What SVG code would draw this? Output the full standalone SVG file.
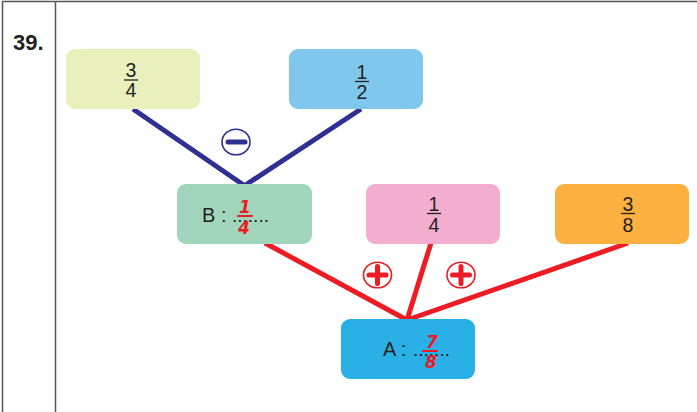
<svg xmlns="http://www.w3.org/2000/svg" width="697" height="412" viewBox="0 0 697 412">
<style>
.box{stroke:none}
.num{font-family:"Liberation Sans",Arial,sans-serif;font-size:19.5px;fill:#231f20;text-anchor:middle}
.lbl{font-family:"Liberation Sans",Arial,sans-serif;font-size:20px;fill:#231f20}
.dots{font-family:"Liberation Sans",Arial,sans-serif;font-size:19px;fill:#231f20}
.bar{stroke:#231f20;stroke-width:1.3}
.hand{font-family:"DejaVu Sans",sans-serif;font-size:17px;font-style:italic;font-weight:bold;fill:#ed1c24;text-anchor:middle}
.hbar{stroke:#ed1c24;stroke-width:2.2;stroke-linecap:round}
.blue{stroke:#2e3192;stroke-width:5;fill:none}
.red{stroke:#ed1c24;stroke-width:5;fill:none}
.frame{stroke:#555;stroke-width:1.5;fill:none}
</style>
<rect width="697" height="412" fill="#fff"/>
<g id="frame">
<line class="frame" x1="2" y1="1.5" x2="697" y2="1.5"/>
<line class="frame" x1="2.5" y1="1" x2="2.5" y2="412"/>
<line class="frame" x1="55.5" y1="1" x2="55.5" y2="412"/>
<text x="13" y="50" font-family="Liberation Sans,Arial,sans-serif" font-size="22" font-weight="bold" fill="#231f20">39.</text>
</g>
<g id="connectors">
<line class="blue" x1="133" y1="109" x2="245" y2="186"/>
<line class="blue" x1="361" y1="109" x2="244" y2="186"/>
<line class="red" x1="265" y1="243" x2="407" y2="320"/>
<line class="red" x1="431" y1="243" x2="407" y2="320"/>
<line class="red" x1="628" y1="243" x2="407" y2="320"/>
</g>
<g id="minus">
<ellipse cx="236" cy="142" rx="14" ry="12.8" fill="#fff" stroke="#2e3192" stroke-width="1.6"/>
<line x1="228" y1="142" x2="245" y2="142" stroke="#2e3192" stroke-width="5" stroke-linecap="round"/>
</g>
<g id="plus1">
<ellipse cx="377.5" cy="275" rx="14" ry="12.8" fill="#fff" stroke="#ed1c24" stroke-width="1.6"/>
<line x1="369" y1="275" x2="386" y2="275" stroke="#ed1c24" stroke-width="5" stroke-linecap="round"/>
<line x1="377.5" y1="266.5" x2="377.5" y2="283.5" stroke="#ed1c24" stroke-width="5" stroke-linecap="round"/>
</g>
<g id="plus2">
<ellipse cx="461" cy="275" rx="14" ry="12.8" fill="#fff" stroke="#ed1c24" stroke-width="1.6"/>
<line x1="452.5" y1="275" x2="469.5" y2="275" stroke="#ed1c24" stroke-width="5" stroke-linecap="round"/>
<line x1="461" y1="266.5" x2="461" y2="283.5" stroke="#ed1c24" stroke-width="5" stroke-linecap="round"/>
</g>
<g id="n34">
<rect class="box" x="66" y="49" width="134" height="60" rx="9" fill="#e9f0bc"/>
<text class="num" x="131" y="77">3</text>
<line class="bar" x1="124" y1="80" x2="138" y2="80"/>
<text class="num" x="131" y="97">4</text>
</g>
<g id="n12">
<rect class="box" x="289" y="49" width="134" height="60" rx="9" fill="#80c7ed"/>
<text class="num" x="362" y="79">1</text>
<line class="bar" x1="355" y1="81.5" x2="369" y2="81.5"/>
<text class="num" x="362" y="99">2</text>
</g>
<g id="nB">
<rect class="box" x="177" y="184" width="135" height="60" rx="9" fill="#a1d5bb"/>
<text class="lbl" x="202" y="222">B :</text>
<text class="dots" x="232" y="222">.......</text>
<text class="hand" x="245" y="213">1</text>
<line class="hbar" x1="238" y1="216" x2="252" y2="216"/>
<text class="hand" x="244" y="234">4</text>
</g>
<g id="n14">
<rect class="box" x="366" y="184" width="134" height="60" rx="9" fill="#f3aecf"/>
<text class="num" x="434" y="211">1</text>
<line class="bar" x1="427" y1="213.5" x2="441" y2="213.5"/>
<text class="num" x="434" y="232">4</text>
</g>
<g id="n38">
<rect class="box" x="555" y="184" width="134" height="60" rx="9" fill="#fbb040"/>
<text class="num" x="628" y="211">3</text>
<line class="bar" x1="621" y1="213.5" x2="635" y2="213.5"/>
<text class="num" x="628" y="232">8</text>
</g>
<g id="nA">
<rect class="box" x="341" y="319" width="134" height="60" rx="9" fill="#29b0e6"/>
<text class="lbl" x="383" y="356">A :</text>
<text class="dots" x="413" y="356">.......</text>
<text class="hand" x="432" y="348">7</text>
<line class="hbar" x1="423" y1="351" x2="437" y2="351"/>
<text class="hand" x="431" y="368">8</text>
</g>
</svg>
